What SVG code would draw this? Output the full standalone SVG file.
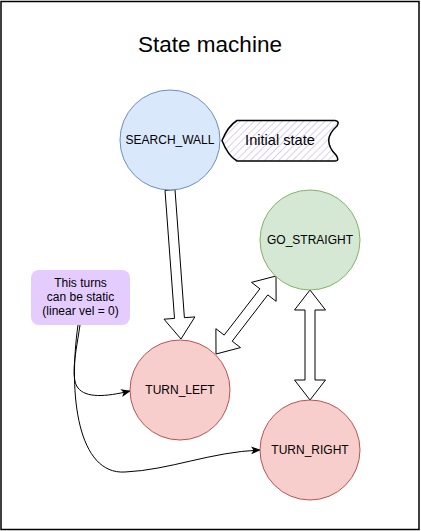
<svg xmlns="http://www.w3.org/2000/svg" width="421" height="531" viewBox="0 0 421 531">
<style>
text{font-family:"Liberation Sans",Arial,sans-serif;fill:#000;text-anchor:middle}
.lbl{font-size:12px}
.blue{fill:#dae8fc;stroke:#6c8ebf;stroke-width:1}
.green{fill:#d5e8d4;stroke:#82b366;stroke-width:1}
.red{fill:#f8cecc;stroke:#b85450;stroke-width:1}
.block{fill:#fff;stroke:#000;stroke-width:1;stroke-linejoin:miter}
.curve{fill:none;stroke:#000;stroke-width:1}
</style>
<defs>
<pattern id="hatch" width="5" height="5" patternUnits="userSpaceOnUse" patternTransform="rotate(45)">
<rect width="5" height="5" fill="#fff"/>
<line x1="0" y1="0" x2="0" y2="5" stroke="#c6b2f0" stroke-width="1.3"/>
</pattern>
<marker id="arr" viewBox="0 0 10 10" refX="9" refY="5" markerWidth="10" markerHeight="10" markerUnits="userSpaceOnUse" orient="auto">
<path d="M0,1 L10,5 L0,9 L2.5,5 Z" fill="#000"/>
</marker>
</defs>
<rect x="0" y="0" width="421" height="531" fill="#fff"/>
<rect x="1" y="1.5" width="418" height="528" fill="none" stroke="#000" stroke-width="1.5"/>
<text x="210" y="52" style="font-size:22.5px">State machine</text>

<g id="connectors">
<polygon class="block" points="165,190.4 174.5,318.4 164,319.2 181,339 194.9,316.9 184.4,317.7 175,189.6"/>
<polygon class="block" points="276,276 276.1,301.3 267.8,294.9 232.2,341.2 240.5,347.6 216,354 215.9,328.7 224.2,335.1 259.9,288.8 251.5,282.4"/>
<polygon class="block" points="310,290 325.5,310 315,310 315,380 325.5,380 310,400 294.5,380 305,380 305,310 294.5,310"/>
<path class="curve" marker-end="url(#arr)" d="M80,325 C76,352 70,378 78,388 C86,398 105,397 130,391"/>
<path class="curve" marker-end="url(#arr)" d="M78,325 C68,395 78,475 125,472 C170,470 210,452 260,450"/>
</g>

<g id="search_wall">
<circle class="blue" cx="170" cy="140" r="50"/>
<text class="lbl" x="170" y="144">SEARCH_WALL</text>
</g>

<g id="initial_state">
<path d="M237,120.5 L335,120.5 Q340,121 337,126 Q321,140 336,155 Q340,161 335,161 L237,161 Q228,156 222,140.5 Q228,126 237,120.5 Z" fill="url(#hatch)" stroke="#000" stroke-width="1.5"/>
<text x="280" y="145" style="font-size:14.6px">Initial state</text>
</g>

<g id="go_straight">
<circle class="green" cx="310" cy="240" r="50"/>
<text class="lbl" x="310" y="244">GO_STRAIGHT</text>
</g>

<g id="turn_left">
<circle class="red" cx="180" cy="390" r="50"/>
<text class="lbl" x="180" y="394">TURN_LEFT</text>
</g>

<g id="turn_right">
<circle class="red" cx="310" cy="450" r="50"/>
<text class="lbl" x="310" y="454">TURN_RIGHT</text>
</g>

<g id="note">
<rect x="31" y="270" width="99" height="55" rx="8" ry="8" fill="#e5ccff"/>
<text class="lbl" x="80.5" y="287">This turns</text>
<text class="lbl" x="80.5" y="301">can be static</text>
<text class="lbl" x="80.5" y="315">(linear vel = 0)</text>
</g>
</svg>
